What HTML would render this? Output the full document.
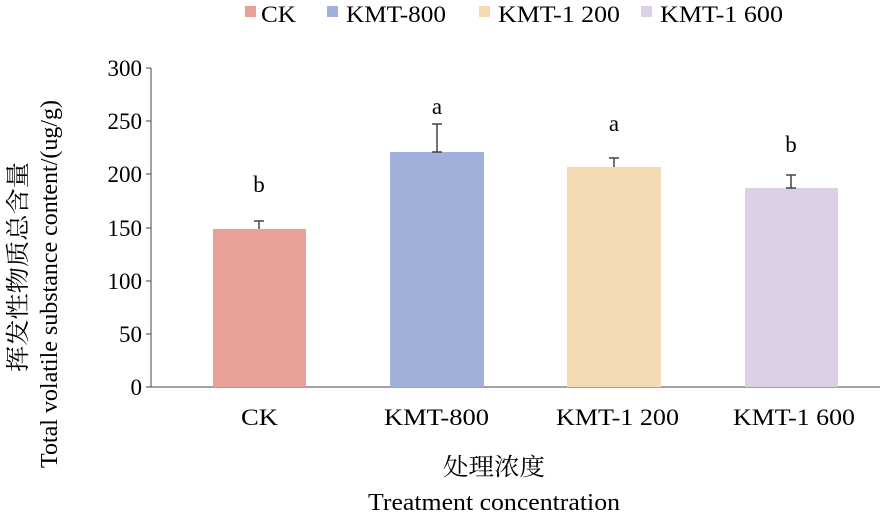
<html><body style="margin:0;background:#fff">
<svg width="886" height="514" xmlns="http://www.w3.org/2000/svg" font-family="Liberation Serif, Noto Serif CJK SC, serif" font-size="23" fill="#000">
<g font-size="23">
<rect x="245" y="6" width="11" height="11" fill="#E8A097"/><text x="261" y="22" textLength="35" lengthAdjust="spacingAndGlyphs">CK</text>
<rect x="327" y="6" width="11" height="11" fill="#A0B0DA"/><text x="346" y="22" textLength="100" lengthAdjust="spacingAndGlyphs">KMT-800</text>
<rect x="479" y="6" width="11" height="11" fill="#F2DBB3"/><text x="498" y="22" textLength="122" lengthAdjust="spacingAndGlyphs">KMT-1 200</text>
<rect x="641" y="6" width="11" height="11" fill="#DCD0E6"/><text x="660" y="22" textLength="123" lengthAdjust="spacingAndGlyphs">KMT-1 600</text>
</g>
<line x1="151" y1="68" x2="151" y2="387" stroke="#444"/>
<line x1="151" y1="387" x2="880" y2="387" stroke="#444"/>
<g stroke="#444">
<line x1="146" y1="68" x2="151" y2="68"/><line x1="146" y1="121" x2="151" y2="121"/><line x1="146" y1="174" x2="151" y2="174"/><line x1="146" y1="228" x2="151" y2="228"/><line x1="146" y1="281" x2="151" y2="281"/><line x1="146" y1="334" x2="151" y2="334"/><line x1="146" y1="387" x2="151" y2="387"/>
</g>
<g text-anchor="end">
<text x="142" y="76">300</text><text x="142" y="129">250</text><text x="142" y="182">200</text><text x="142" y="236">150</text><text x="142" y="289">100</text><text x="142" y="342">50</text><text x="142" y="395">0</text>
</g>
<rect x="213" y="229" width="93" height="158" fill="#E8A097"/>
<rect x="390" y="152" width="94" height="235" fill="#A0B0DA"/>
<rect x="567" y="167" width="94" height="220" fill="#F2DBB3"/>
<rect x="745" y="188" width="93" height="199" fill="#DCD0E6"/>
<g stroke="#444" stroke-width="1.5">
<line x1="259" y1="221" x2="259" y2="229"/><line x1="254" y1="221" x2="264" y2="221"/>
<line x1="437" y1="124" x2="437" y2="152"/><line x1="432" y1="124" x2="442" y2="124"/><line x1="432" y1="152" x2="442" y2="152"/>
<line x1="614" y1="158" x2="614" y2="167"/><line x1="609" y1="158" x2="619" y2="158"/>
<line x1="791" y1="175" x2="791" y2="188"/><line x1="786" y1="175" x2="796" y2="175"/><line x1="786" y1="188" x2="796" y2="188"/>
</g>
<g text-anchor="middle">
<text x="259" y="192">b</text><text x="437" y="114">a</text><text x="614" y="131">a</text><text x="791" y="152">b</text>
</g>
<text x="241" y="425" textLength="37" lengthAdjust="spacingAndGlyphs">CK</text>
<text x="384" y="425" textLength="105" lengthAdjust="spacingAndGlyphs">KMT-800</text>
<text x="556" y="425" textLength="123" lengthAdjust="spacingAndGlyphs">KMT-1 200</text>
<text x="733" y="425" textLength="122" lengthAdjust="spacingAndGlyphs">KMT-1 600</text>
<text x="443" y="475" font-size="24" textLength="102" lengthAdjust="spacingAndGlyphs">处理浓度</text>
<text x="368" y="510" font-size="24" textLength="252" lengthAdjust="spacingAndGlyphs">Treatment concentration</text>
<text transform="translate(26,372) rotate(-90)" font-size="24" textLength="210" lengthAdjust="spacingAndGlyphs">挥发性物质总含量</text>
<text transform="translate(57,468) rotate(-90)" font-size="24" textLength="368" lengthAdjust="spacingAndGlyphs">Total volatile substance content/(ug/g)</text>
</svg>
</body></html>
